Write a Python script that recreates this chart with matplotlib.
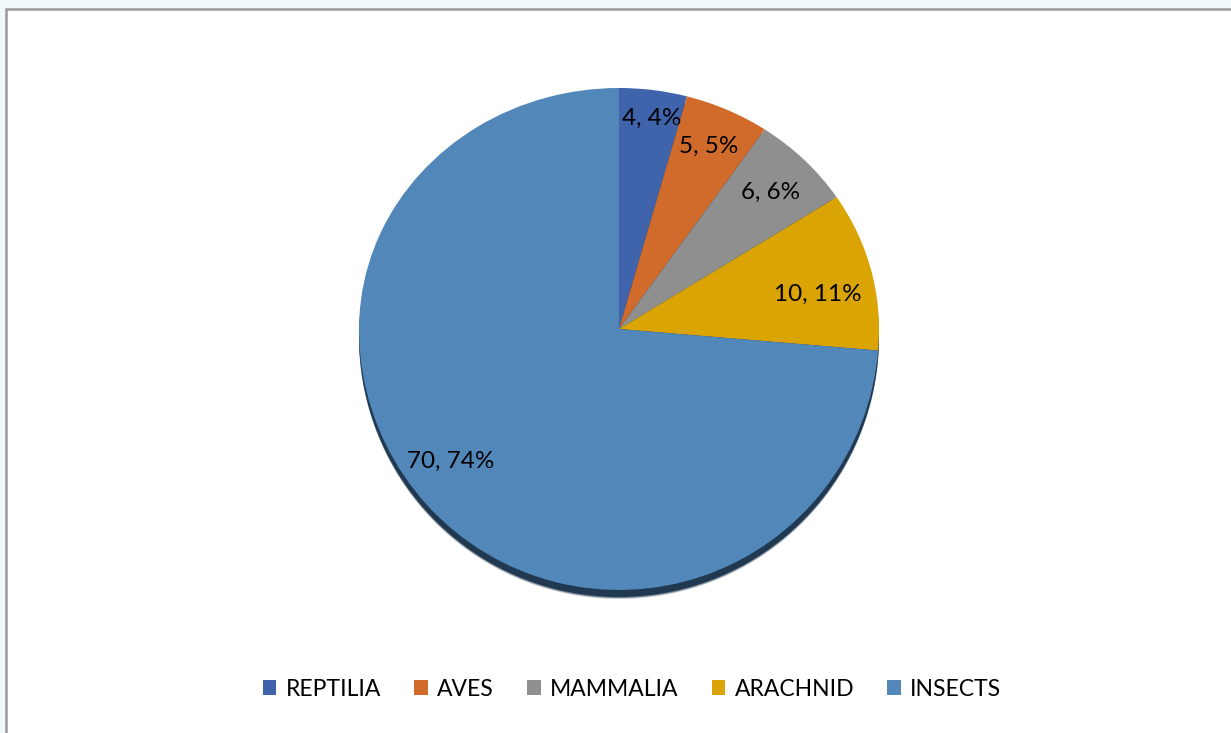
import numpy as np
import matplotlib
matplotlib.use('Agg')
import matplotlib.pyplot as plt
from matplotlib.patches import PathPatch, Rectangle, Polygon
from matplotlib.path import Path

plt.rcParams["font.family"] = ["Lato", "DejaVu Sans"]

# Data
groups = ['REPTILIA', 'AVES', 'MAMMALIA', 'ARACHNID', 'INSECTS']
counts = [4, 5, 6, 10, 70]
colors = ['#3f64ab', '#d06b2c', '#8f8f8f', '#d9a404', '#5187b9']

W, H = 1231, 733
fig = plt.figure(figsize=(W/100, H/100), dpi=100, facecolor='#f1f8fb')

# white chart area with grey frame on top/left (behind the axes)
fig.add_artist(Rectangle((6/W, -0.01), 1.02, (H-9)/H + 0.01, transform=fig.transFigure,
                         facecolor='white', edgecolor='#9a9a9a', linewidth=1.8, zorder=-5))

ax = fig.add_axes([0, 0, 1, 1])
ax.patch.set_alpha(0)

# pie geometry in pixels (y up), slight tilt: top radius shorter than bottom
cx, cy = 619, H - 329
r = 260
top_k, bot_k = 241/260, 261/260

def squash(v):
    v = v.copy()
    dy = v[:, 1] - cy
    v[:, 1] = cy + np.where(dy > 0, dy*top_k, dy*bot_k)
    return v

# shadow
th = np.linspace(0, 2*np.pi, 400)
outline = np.column_stack([cx + r*np.cos(th), cy + r*np.sin(th)])
outline = squash(outline)
for k, a in [(9, 0.25), (8, 0.5), (7, 1.0)]:
    ax.add_patch(Polygon(outline - [0, k], closed=True, facecolor='#203850',
                         edgecolor='none', alpha=a, zorder=1))

wedges, _ = ax.pie(counts, colors=colors, startangle=90, counterclock=False,
                   center=(cx, cy), radius=r)
for w in wedges:
    p = w.get_path()
    newp = Path(squash(p.vertices), p.codes)
    ax.add_patch(PathPatch(newp, facecolor=w.get_facecolor(), edgecolor='none', zorder=2))
    w.remove()

# data labels (best-fit style: small nudges in px, x right / y down)
nudge = [(6, -22), (4, -10), (5, -3), (0, 12), (-17, -7)]
total = sum(counts)
cum = np.cumsum([0] + counts)
for i, v in enumerate(counts):
    mid = (cum[i] + v/2) / total * 2*np.pi
    ang = np.pi/2 - mid
    lx = cx + 205*np.cos(ang)
    dy = 205*np.sin(ang)
    ly = cy + dy*(top_k if dy > 0 else bot_k)
    ax.text(lx + nudge[i][0], ly - nudge[i][1], f"{v}, {round(100*v/total)}%",
            ha='center', va='center', fontsize=17.5, color='black', zorder=3)

ax.set_xlim(0, W)
ax.set_ylim(0, H)
ax.set_aspect('auto')
ax.axis('off')

handles = [Rectangle((0, 0), 1, 1, facecolor=c) for c in colors]
fig.legend(handles, groups, loc='center', bbox_to_anchor=(632/W, (H-689)/H), ncol=5,
           frameon=False, fontsize=16.5, handlelength=0.6, handleheight=0.6,
           handletextpad=0.4, columnspacing=1.45)

fig.savefig('out.png', dpi=100, facecolor=fig.get_facecolor())
